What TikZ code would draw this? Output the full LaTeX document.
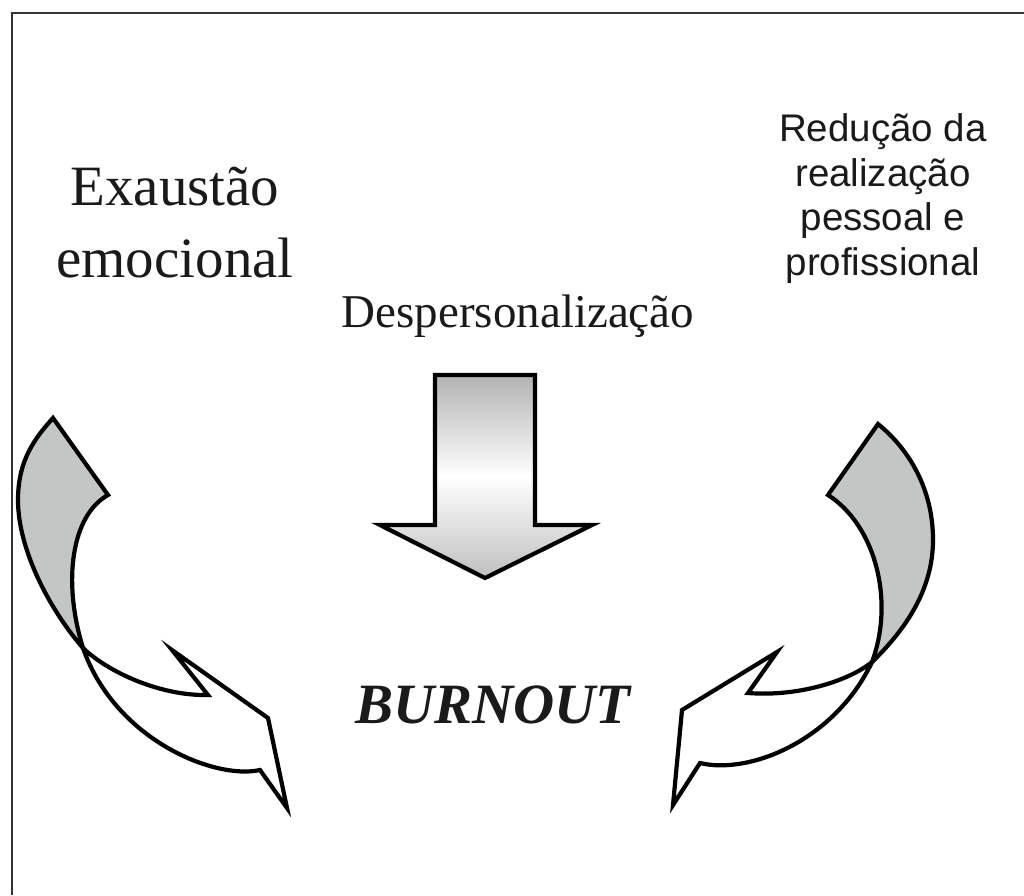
\documentclass[tikz,border=0pt]{standalone}
\usepackage{fontspec}
\setmainfont{Liberation Serif}
\newfontfamily\arialfont{Liberation Sans}
\definecolor{ribbongray}{HTML}{C4C6C5}
\definecolor{framegray}{HTML}{333333}
\definecolor{txt}{HTML}{1A1A1A}
\tikzset{
  framestyle/.style={draw=framegray, line width=2.4pt},
  ribbon/.style={draw=black, line width=4.2pt, line join=miter},
  backface/.style={ribbon, fill=ribbongray},
  frontface/.style={ribbon, fill=white},
  bigarrow/.style={draw=black, line width=4.2pt, top color=gray!60, bottom color=gray!50, middle color=white},
  serifbig/.style={text=txt, font=\fontsize{57}{72}\selectfont, align=center, inner sep=0pt},
}
\begin{document}
\begin{tikzpicture}[x=1pt,y=-1pt]
\useasboundingbox (0,0) rectangle (1024,895);
\fill[white] (0,0) rectangle (1024,895);
% frame
\draw[framestyle] (12,895) -- (12,13) -- (1024,13);

% left ribbon arrow
\path[backface] (53,418) -- (108,495) .. controls (72,515) and (62,580) .. (83,648)
  .. controls (50,610) and (18,550) .. (18,500) .. controls (18,460) and (35,438) .. (53,418) -- cycle;
\path[frontface] (83,648) .. controls (108,672) and (160,696) .. (208,695) -- (172,650) -- (268,718) -- (287,808) -- (260,770)
  .. controls (215,780) and (115,740) .. (83,648) -- cycle;

% right ribbon arrow
\path[backface] (878,424) -- (828,495) .. controls (875,525) and (895,600) .. (872,662)
  .. controls (905,630) and (933,590) .. (933,540) .. controls (933,490) and (910,450) .. (878,424) -- cycle;
\path[frontface] (872,662) .. controls (850,680) and (800,697) .. (748,693) -- (777,652) -- (682,710) -- (673,805) -- (700,763)
  .. controls (750,775) and (835,740) .. (872,662) -- cycle;

% central arrow
\path[bigarrow] (435,375) -- (535,375) -- (535,525) -- (592,525) -- (485,578) -- (380,525) -- (435,525) -- cycle;

% texts
\node[serifbig, anchor=base] (exaustao) at (175,277) {Exaust\~ao\\emocional};
\node[text=txt, font=\fontsize{47}{56}\selectfont, anchor=base, inner sep=0pt] (desp) at (518,327) {Despersonaliza\c{c}\~ao};
\node[text=txt, font=\fontsize{57}{68}\selectfont\bfseries\itshape, anchor=base, inner sep=0pt] (burnout) at (493,723) {BURNOUT};
\node[text=txt, font=\arialfont\fontsize{38.5}{44.5}\selectfont, align=center, anchor=base, inner sep=0pt] (reducao) at (883,275) {Redu\c{c}\~ao da\\realiza\c{c}\~ao\\pessoal e\\profissional};
\end{tikzpicture}
\end{document}
